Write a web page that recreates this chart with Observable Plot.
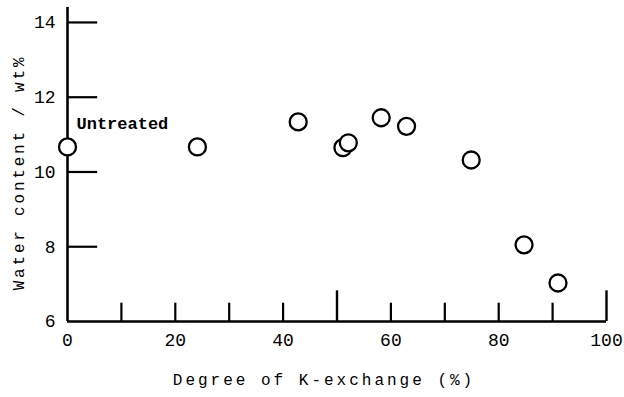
<!DOCTYPE html>
<html>
<head>
<meta charset="utf-8">
<script src="https://cdn.jsdelivr.net/npm/d3@7"></script>
<script src="https://cdn.jsdelivr.net/npm/@observablehq/plot@0.6"></script>
<style>
  html, body { margin: 0; padding: 0; background: #fff; }
  svg { display: block; }
</style>
</head>
<body>
<div id="chart"></div>
<script>
// Data
const exchange = [0, 24.1, 42.8, 51.1, 52.1, 58.2, 62.9, 74.9, 84.7, 91.0];
const water    = [10.67, 10.67, 11.34, 10.65, 10.78, 11.45, 11.22, 10.32, 8.05, 7.03];

const xTickLabels = [0, 20, 40, 60, 80, 100];
const xTicksMinor = [10, 20, 30, 40, 60, 70, 80, 90];
const xTicksMajor = [50, 100];
const yTickLabels = [6, 8, 10, 12, 14];
const yTickMarks  = [8, 10, 12, 14];

const xTitle = "Degree of K-exchange (%)";
const yTitle = "Water content / wt%";
const untreatedLabel = [{x: 0, y: 10.67, text: "Untreated"}];

const points = exchange.map((x, i) => ({x, y: water[i]}));

const font = "'Liberation Mono', 'DejaVu Sans Mono', monospace";

const chart = Plot.plot({
  width: 624,
  height: 397,
  marginLeft: 67,
  marginRight: 18,
  marginTop: 7,
  marginBottom: 76,
  style: {fontFamily: font, background: "#fff", color: "#000"},
  x: {domain: [0, 100]},
  y: {domain: [6, 14.4]},
  marks: [
    Plot.axisX(xTickLabels, {tickSize: 0, tickPadding: 12, fontSize: 18, label: null, fontFamily: font}),
    Plot.axisY(yTickLabels, {tickSize: 0, tickPadding: 12, fontSize: 18, label: null, fontFamily: font}),
    // axis lines
    Plot.ruleX([0], {y1: 6, y2: 14.4, stroke: "#000", strokeWidth: 2.6}),
    Plot.ruleY([6], {x1: 0, x2: 100, stroke: "#000", strokeWidth: 2.6}),
    // inward ticks
    Plot.ruleX(xTicksMinor, {x: d => d, y1: 6, y2: 6.49, stroke: "#000", strokeWidth: 2.2}),
    Plot.ruleX(xTicksMajor, {x: d => d, y1: 6, y2: 6.82, stroke: "#000", strokeWidth: 2.4}),
    Plot.ruleY(yTickMarks, {y: d => d, x1: 0, x2: 5.6, stroke: "#000", strokeWidth: 2.2}),
    // points
    Plot.dot(points, {x: "x", y: "y", r: 8.5, stroke: "#000", strokeWidth: 2.3, fill: "#fff"}),
    // annotation
    Plot.text(untreatedLabel, {x: "x", y: "y", text: "text", dx: 9, dy: -23, textAnchor: "start", fontSize: 17, fontWeight: "bold", fontFamily: font}),
    // axis titles
    Plot.text([xTitle], {frameAnchor: "bottom", dy: 63, dx: -13, textAnchor: "middle", fontSize: 16, fontFamily: font}),
    Plot.text([yTitle], {frameAnchor: "left", rotate: -90, dx: -49, dy: 8, textAnchor: "middle", fontSize: 16, fontFamily: font})
  ]
});
d3.select(chart).selectAll("text")
  .filter(function() { return this.textContent === xTitle; })
  .style("letter-spacing", "3px");
d3.select(chart).selectAll("text")
  .filter(function() { return this.textContent === yTitle; })
  .style("letter-spacing", "2.8px");
document.getElementById("chart").appendChild(chart);
</script>
</body>
</html>
